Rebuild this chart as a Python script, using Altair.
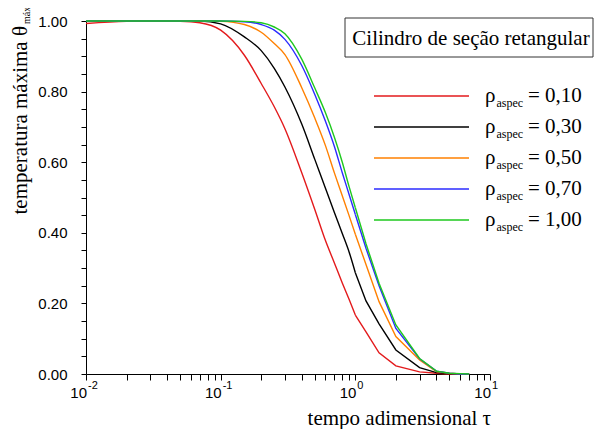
import altair as alt
import pandas as pd

# ---- data ----
tau = [0.01, 0.02, 0.03, 0.05, 0.07, 0.1, 0.15, 0.2, 0.25, 0.3, 0.4, 0.5, 0.6,
       0.7, 0.8, 0.9, 1.0, 1.2, 1.5, 2, 3, 4, 5, 6, 7]
theta_010 = [0.993, 0.999, 1.0, 0.999, 0.995, 0.974, 0.903, 0.823, 0.757, 0.695, 0.570,
             0.466, 0.378, 0.314, 0.258, 0.211, 0.167, 0.119, 0.060, 0.023, 0.006, 0.002,
             0.0, 0.0, 0.0]
theta_030 = [1.0, 1.0, 1.0, 1.0, 1.0, 0.992, 0.955, 0.916, 0.866, 0.813, 0.708, 0.608,
             0.526, 0.457, 0.398, 0.345, 0.287, 0.207, 0.142, 0.068, 0.018, 0.004, 0.001,
             0.0, 0.0]
theta_050 = [1.0, 1.0, 1.0, 1.0, 1.0, 0.999, 0.990, 0.968, 0.936, 0.905, 0.811, 0.725,
             0.647, 0.569, 0.505, 0.448, 0.396, 0.310, 0.205, 0.106, 0.040, 0.007, 0.002,
             0.0, 0.0]
theta_070 = [1.0, 1.0, 1.0, 1.0, 1.0, 1.0, 0.998, 0.990, 0.974, 0.948, 0.874, 0.792,
             0.716, 0.644, 0.570, 0.508, 0.452, 0.356, 0.250, 0.129, 0.043, 0.008, 0.002,
             0.0, 0.0]
theta_100 = [1.0, 1.0, 1.0, 1.0, 1.0, 1.0, 0.999, 0.995, 0.983, 0.964, 0.892, 0.810,
             0.740, 0.670, 0.600, 0.530, 0.471, 0.369, 0.257, 0.139, 0.044, 0.008, 0.002,
             0.001, 0.0]

rho_labels = ["0,10", "0,30", "0,50", "0,70", "1,00"]
series = [theta_010, theta_030, theta_050, theta_070, theta_100]
colors = ["#e31a1c", "#000000", "#ff8000", "#2b2bff", "#1ec81e"]

y_ticks = [0.0, 0.05, 0.1, 0.15, 0.2, 0.25, 0.3, 0.35, 0.4, 0.45, 0.5, 0.55, 0.6,
           0.65, 0.7, 0.75, 0.8, 0.85, 0.9, 0.95, 1.0]
x_ticks = [0.01, 0.02, 0.03, 0.04, 0.05, 0.06, 0.07, 0.08, 0.09,
           0.1, 0.2, 0.3, 0.4, 0.5, 0.6, 0.7, 0.8, 0.9,
           1, 2, 3, 4, 5, 6, 7, 8, 9, 10]
x_major = [0.01, 0.1, 1, 10]
x_exp = ["-2", "-1", "0", "1"]

box_title = "Cilindro de seção retangular"
x_title = "tempo adimensional  τ"
y_title = "temperatura máxima  θ"
y_title_sub = "máx"
legend_sym = "ρ"
legend_sub = "aspec"

SERIF = "Liberation Serif"
SANS = "Liberation Sans"
W, H = 404, 353

rows = []
for lab, vals in zip(rho_labels, series):
    for t, v in zip(tau, vals):
        rows.append({"tau": t, "theta": v, "rho": lab})
df = pd.DataFrame(rows)

color_scale = alt.Scale(domain=rho_labels, range=colors)

x_enc = alt.X("tau:Q",
              scale=alt.Scale(type="log", domain=[0.01, 10]),
              axis=alt.Axis(values=x_ticks, labels=False, tickSize=6, title=None,
                            grid=False, domainColor="black", tickColor="black",
                            domainWidth=1, tickWidth=1))
y_enc = alt.Y("theta:Q",
              scale=alt.Scale(domain=[0, 1], nice=False, zero=False),
              axis=alt.Axis(values=y_ticks, tickSize=5, title=None, grid=False,
                            labelExpr="round(datum.value*100) % 20 == 0 ? format(datum.value, '.2f') : ''",
                            labelFont=SANS, labelFontSize=15, labelColor="black",
                            labelPadding=14, domainColor="black", tickColor="black",
                            domainWidth=1, tickWidth=1))
c_enc = alt.Color("rho:N", scale=color_scale, legend=None)

base = alt.Chart(df).encode(x=x_enc, y=y_enc, color=c_enc)
smooth = base.transform_filter("datum.tau <= 1").mark_line(
    strokeWidth=1.4, interpolate="monotone")
tail = base.transform_filter("datum.tau >= 1").mark_line(strokeWidth=1.4)
lines = alt.layer(smooth, tail)

# x tick labels 10^n
xl = pd.DataFrame({"tau": x_major, "exp": x_exp, "base": ["10"] * 4})
xbase = alt.Chart(xl).mark_text(font=SANS, fontSize=15, align="right", dx=1,
                                baseline="alphabetic", color="black").encode(
    x=alt.X("tau:Q"), y=alt.value(H + 24), text="base:N")
xexpo = alt.Chart(xl).mark_text(font=SANS, fontSize=11, align="left", dx=2,
                                baseline="alphabetic", color="black").encode(
    x=alt.X("tau:Q"), y=alt.value(H + 15), text="exp:N")

one = pd.DataFrame({"a": [0]})

xtitle = alt.Chart(one).mark_text(font=SERIF, fontSize=21, align="right",
                                  baseline="alphabetic", color="black").encode(
    x=alt.value(405), y=alt.value(H + 51), text=alt.value(x_title))
ytitle = alt.Chart(one).mark_text(font=SERIF, fontSize=21, align="right", angle=270,
                                  baseline="alphabetic", color="black").encode(
    x=alt.value(-59), y=alt.value(5), text=alt.value(y_title))
ytitle_sub = alt.Chart(one).mark_text(font=SERIF, fontSize=10, align="left", angle=270,
                                      baseline="alphabetic", color="black").encode(
    x=alt.value(-56), y=alt.value(3), text=alt.value(y_title_sub))

# legend box
box = alt.Chart(one).mark_rect(fill="white", stroke="#333333", strokeWidth=1).encode(
    x=alt.value(259), x2=alt.value(507), y=alt.value(-3), y2=alt.value(36))
box_text = alt.Chart(one).mark_text(font=SERIF, fontSize=21, align="center",
                                    baseline="alphabetic", color="black").encode(
    x=alt.value(385), y=alt.value(24), text=alt.value(box_title))

# legend entries
leg = pd.DataFrame({"rho": rho_labels, "eq": ["= " + l for l in rho_labels],
                    "sym": [legend_sym] * 5, "sub": [legend_sub] * 5})
ly = alt.Y("rho:N", scale=alt.Scale(type="point", domain=rho_labels, range=[75, 199],
                                    padding=0), axis=None)
leg_lines = alt.Chart(leg).mark_rule(strokeWidth=1.4).encode(
    x=alt.value(288), x2=alt.value(383), y=ly,
    color=alt.Color("rho:N", scale=color_scale, legend=None))
leg_sym = alt.Chart(leg).mark_text(font=SERIF, fontSize=21, align="left", dy=6,
                                   baseline="alphabetic", color="black").encode(
    x=alt.value(399), y=ly, text="sym:N")
leg_sub = alt.Chart(leg).mark_text(font=SERIF, fontSize=12, align="left", dy=11,
                                   baseline="alphabetic", color="black").encode(
    x=alt.value(410.5), y=ly, text="sub:N")
leg_eq = alt.Chart(leg).mark_text(font=SERIF, fontSize=21, align="left", dy=6,
                                  baseline="alphabetic", color="black").encode(
    x=alt.value(442), y=ly, text="eq:N")

chart = alt.layer(
    lines, xbase, xexpo, xtitle, ytitle, ytitle_sub, box, box_text,
    leg_lines, leg_sym, leg_sub, leg_eq
).resolve_scale(y="independent").properties(
    width=W, height=H,
    autosize=alt.AutoSizeParams(type="none"),
    padding={"left": 78, "top": 13, "right": 104, "bottom": 55},
    background="white",
).configure_view(stroke=None)

chart.save("out.html", embed_options={"renderer": "svg", "actions": False})
